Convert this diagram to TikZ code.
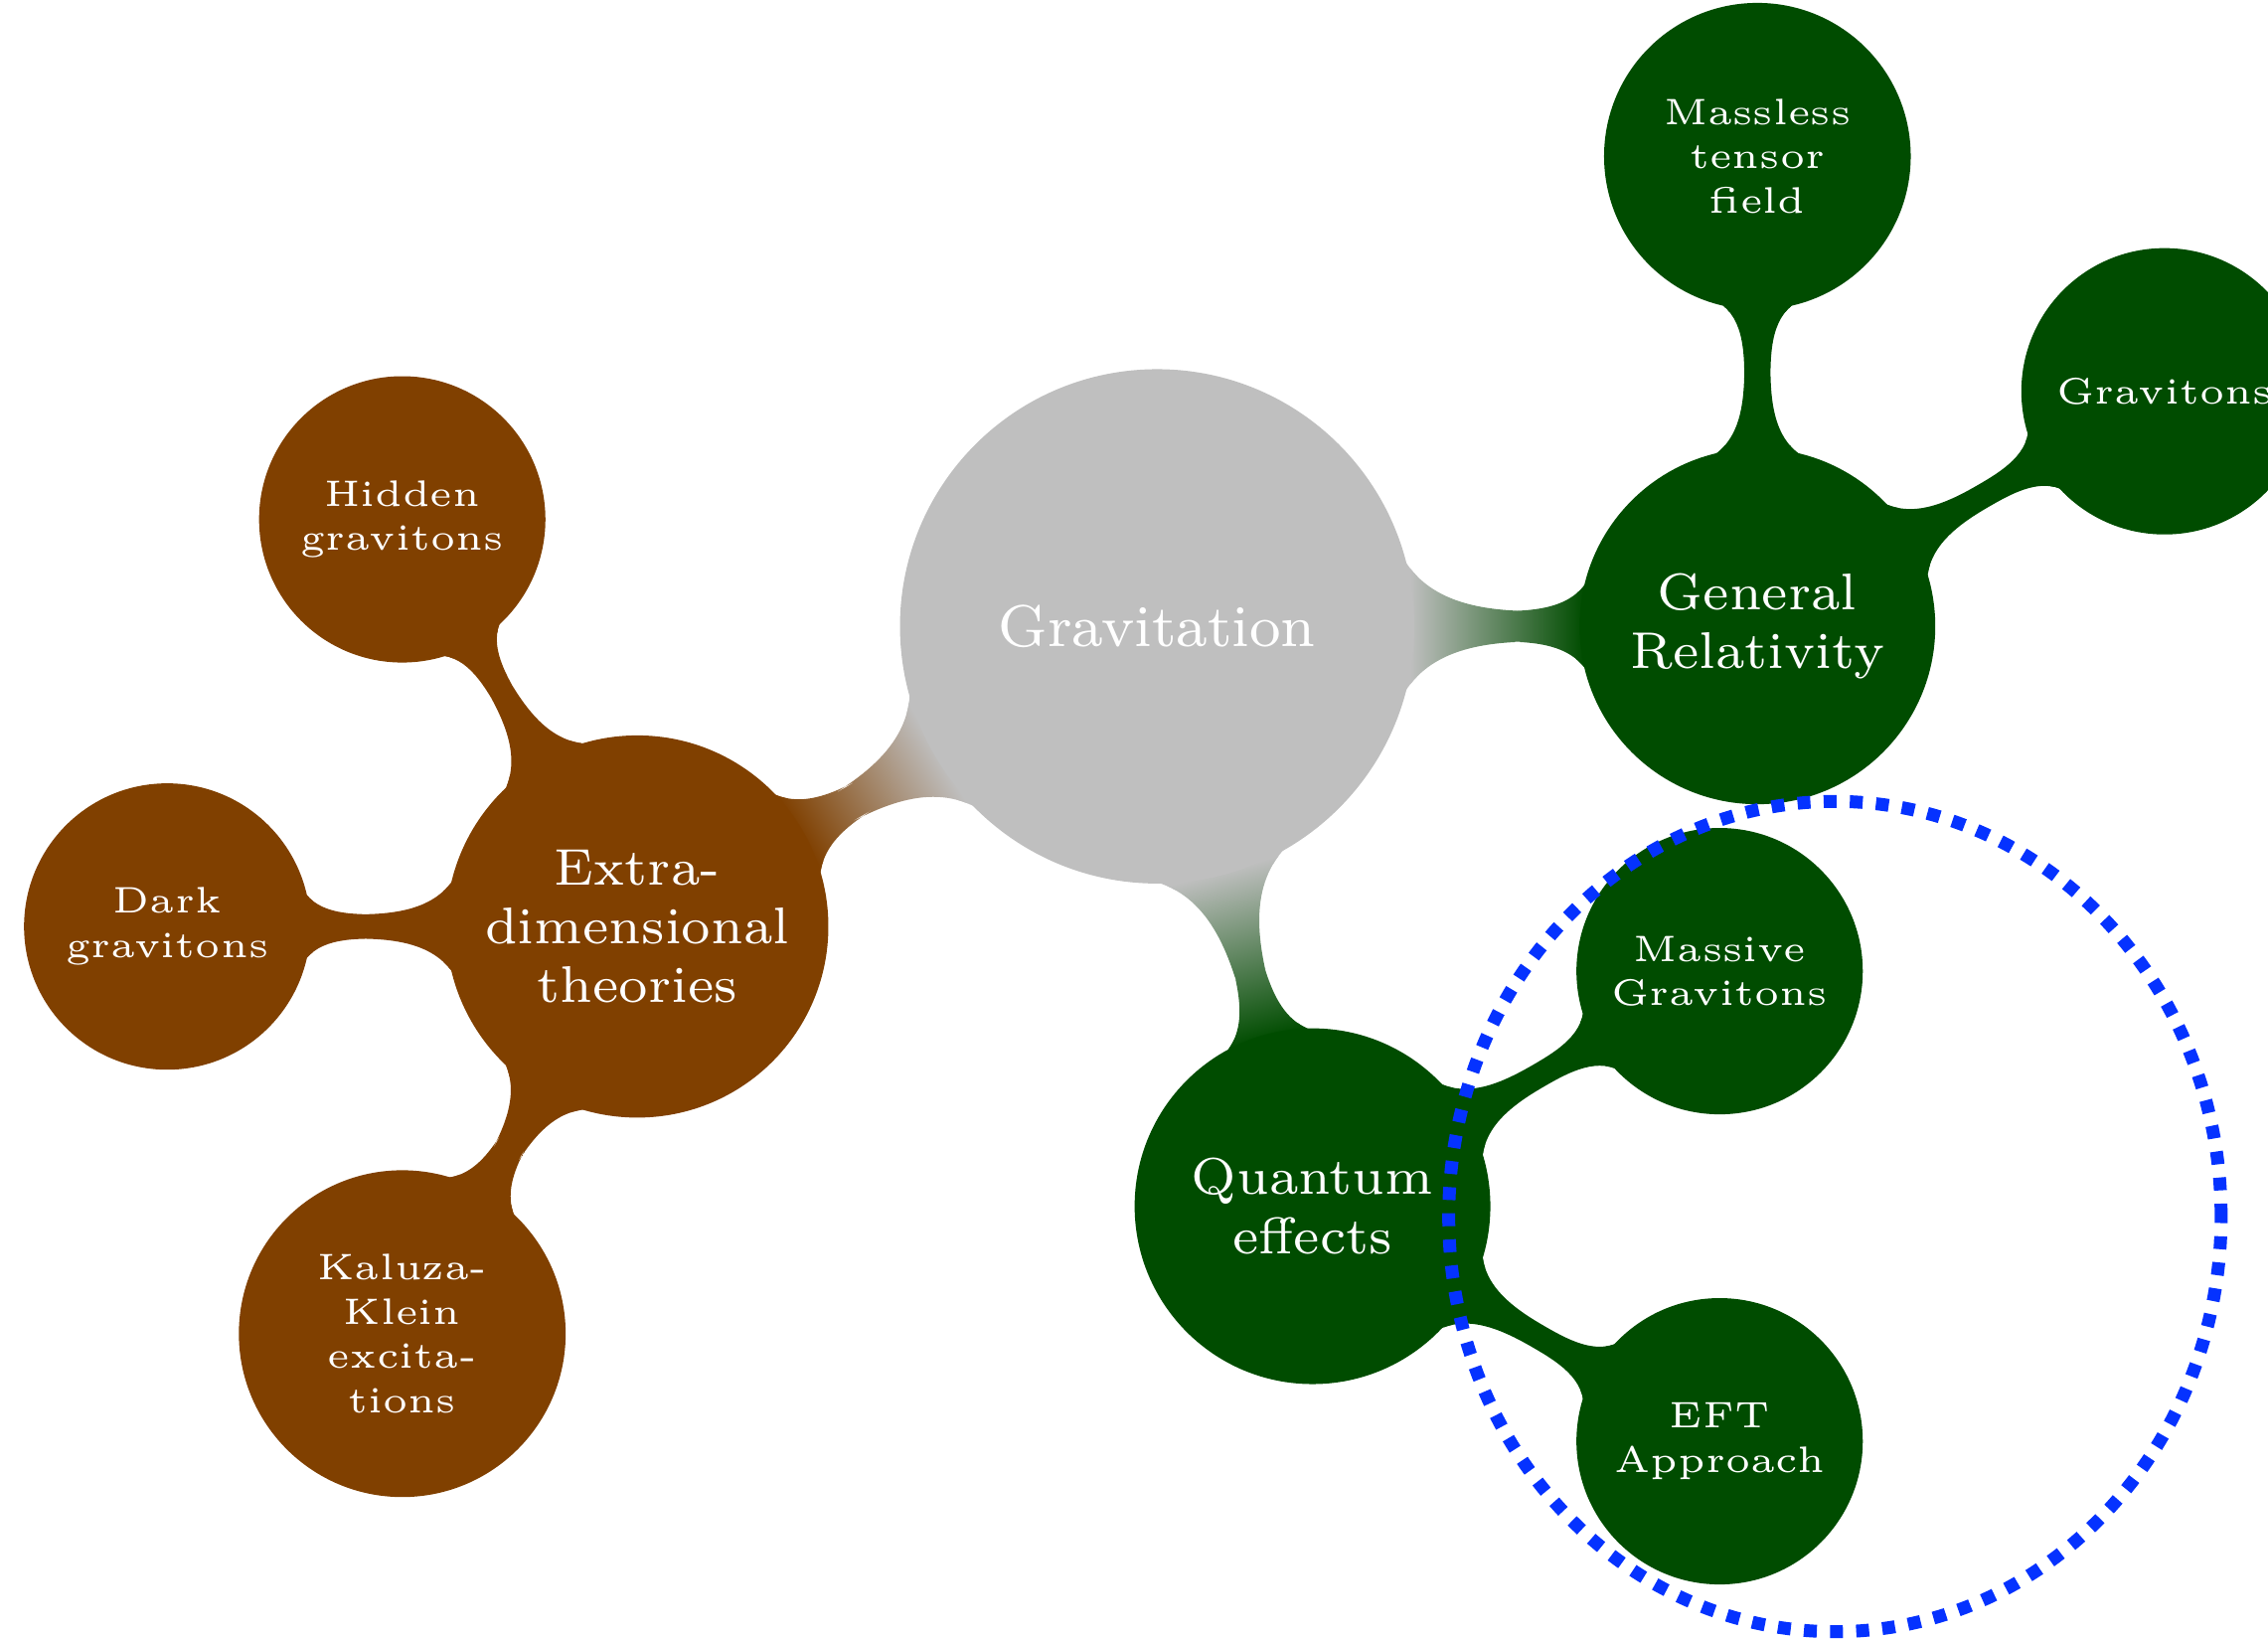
\documentclass[tikz,border=0pt]{standalone}
\usetikzlibrary{mindmap,calc,backgrounds}
\definecolor{dotblue}{RGB}{5,50,255}
\colorlet{rootgray}{gray!50}
\colorlet{grgreen}{green!30!black}
\colorlet{exbrown}{orange!50!black}
\begin{document}
\begin{tikzpicture}[mindmap, x=0.00689cm, y=0.00689cm,
  every node/.style={concept, text=white, inner sep=0pt, align=center},
  rootnode/.style={concept color=rootgray, minimum size=2.41cm, text width=2cm, font=\footnotesize},
  lvlone/.style={minimum size=1.654cm, text width=1.5cm, font=\scriptsize},
  lvltwo/.style={minimum size=1.323cm, text width=1.2cm, font=\tiny},
  greenc/.style={concept color=grgreen},
  brownc/.style={concept color=exbrown},
  rootbar/.style={line width=4.3pt},
  leafbar/.style={line width=3.3pt},
  ring/.style={draw=dotblue, line width=1.75pt, dash pattern=on 1.75pt off 1.8pt}
]
\useasboundingbox (0,0) rectangle (1568,1133);
% root
\node[rootnode] (grav) at (800,700) {Gravitation};
% level 1
\node[lvlone,greenc] (gr) at ($(grav)+(0:415)$) {General\\Relativity};
\node[lvlone,greenc] (qe) at ($(grav)+(-75:415)$) {Quantum\\effects};
\node[lvlone,brownc,minimum size=1.78cm] (ext) at ($(grav)+(210:415)$) {Extra-\\dimensional\\theories};
% level 2
\node[lvltwo,greenc,minimum size=1.42cm] (mtf) at ($(gr)+(90:325)$) {Massless\\tensor\\field};
\node[lvltwo,greenc] (gtn) at ($(gr)+(30:325)$) {Gravitons};
\node[lvltwo,greenc] (mg) at ($(qe)+(30:325)$) {Massive\\Gravitons};
\node[lvltwo,greenc] (eft) at ($(qe)+(-30:325)$) {EFT\\Approach};
\node[lvltwo,brownc] (hid) at ($(ext)+(120:325)$) {Hidden\\gravitons};
\node[lvltwo,brownc] (dark) at ($(ext)+(180:325)$) {Dark\\gravitons};
\node[lvltwo,brownc,minimum size=1.516cm] (kk) at ($(ext)+(240:325)$) {Kaluza-\\Klein\\excita-\\tions};
% connection bars
\begin{scope}[on background layer]
\path[rootbar] (grav) to[circle connection bar switch color=from (rootgray) to (grgreen)] (gr);
\path[rootbar] (grav) to[circle connection bar switch color=from (rootgray) to (grgreen)] (qe);
\path[rootbar] (grav) to[circle connection bar switch color=from (rootgray) to (exbrown)] (ext);
\path[leafbar] (gr) to[circle connection bar switch color=from (grgreen) to (grgreen)] (mtf);
\path[leafbar] (gr) to[circle connection bar switch color=from (grgreen) to (grgreen)] (gtn);
\path[leafbar] (qe) to[circle connection bar switch color=from (grgreen) to (grgreen)] (mg);
\path[leafbar] (qe) to[circle connection bar switch color=from (grgreen) to (grgreen)] (eft);
\path[leafbar] (ext) to[circle connection bar switch color=from (exbrown) to (exbrown)] (hid);
\path[leafbar] (ext) to[circle connection bar switch color=from (exbrown) to (exbrown)] (dark);
\path[leafbar] (ext) to[circle connection bar switch color=from (exbrown) to (exbrown)] (kk);
\end{scope}
% dotted ring
\coordinate (ringc) at (1268.6,292);
\draw[ring] (ringc) ellipse [x radius=267, y radius=287];
\end{tikzpicture}
\end{document}
